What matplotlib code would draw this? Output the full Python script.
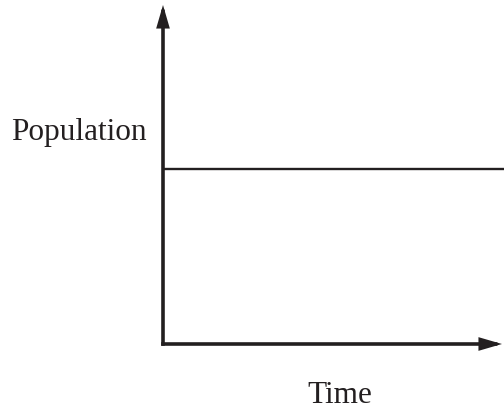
import matplotlib
matplotlib.use('Agg')
import matplotlib.pyplot as plt

# constant population over time
time = [0, 1]
population = [0.515, 0.515]

W, H = 504, 409
ink = '#231f20'

fig = plt.figure(figsize=(W / 100, H / 100), dpi=100)
# axes box in pixel terms: origin at (163, 344), top at y=5, right at fig edge
left, right, bottom, top = 163, 504, 344, 5
ax = fig.add_axes([left / W, 1 - bottom / H, (right - left) / W, (bottom - top) / H])
ax.set_xlim(0, 1)
ax.set_ylim(0, 1)
ax.axis('off')

ax.plot(time, population, color=ink, lw=1.7, clip_on=False, solid_capstyle='butt')

arrow = dict(arrowstyle='-|>,head_length=1.1,head_width=0.32', color=ink, lw=2.6,
             mutation_scale=10, shrinkA=0, shrinkB=0, joinstyle='miter',
             capstyle='projecting')
x_tip = (502 - left) / (right - left)
ax.annotate('', xy=(0, 1), xytext=(0, 0), xycoords='axes fraction',
            arrowprops=arrow, annotation_clip=False)
ax.annotate('', xy=(x_tip, 0), xytext=(0, 0), xycoords='axes fraction',
            arrowprops=arrow, annotation_clip=False)

font = dict(family=['Liberation Serif', 'DejaVu Serif'], fontsize=22.5, color=ink)
fig.text(147 / W, 1 - 140 / H, 'Population', ha='right', va='baseline', **font)
fig.text(340 / W, 1 - 403 / H, 'Time', ha='center', va='baseline', **font)

fig.savefig('out.png', dpi=100)
